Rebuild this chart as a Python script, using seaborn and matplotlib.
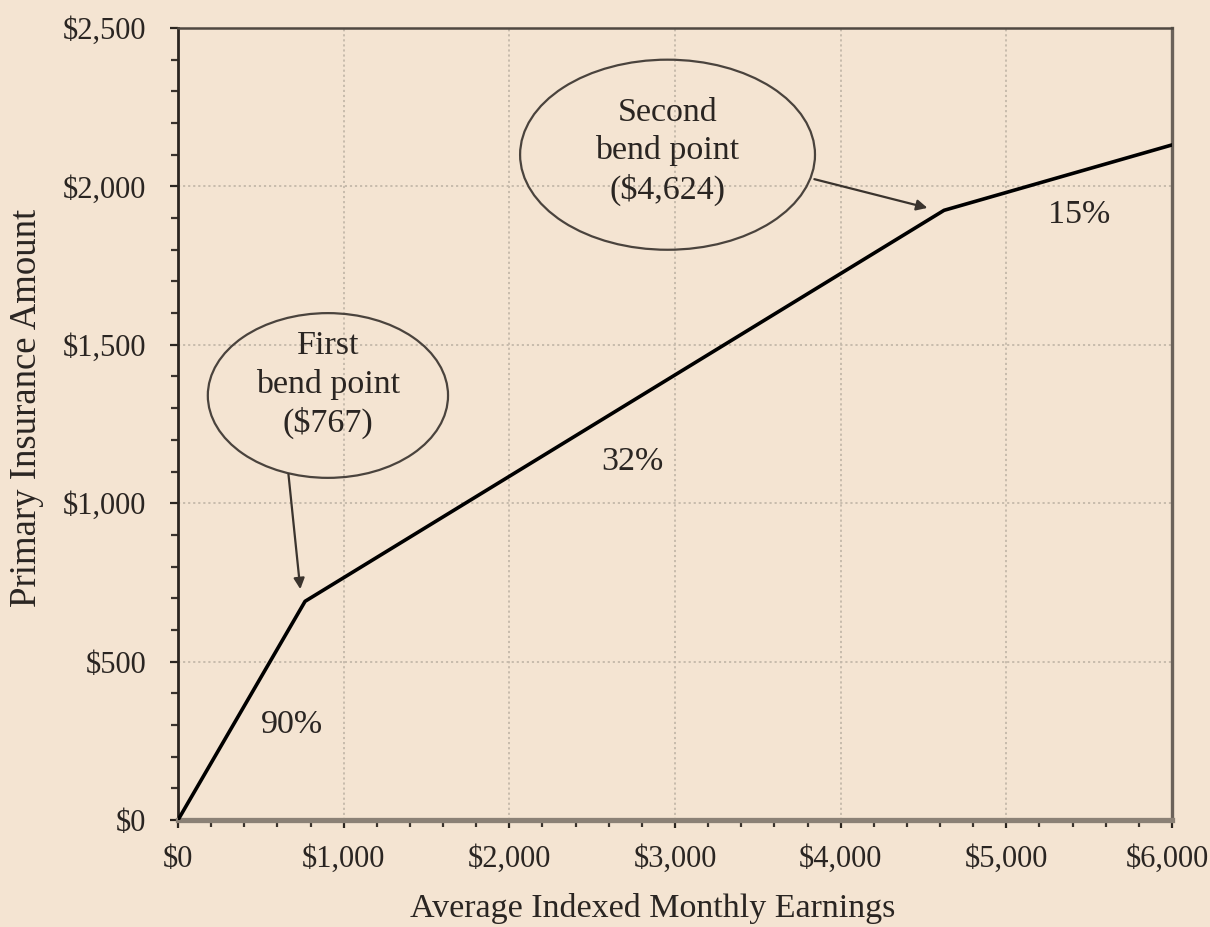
import matplotlib
matplotlib.use("Agg")
import matplotlib.pyplot as plt
import matplotlib.transforms as mtransforms
from matplotlib.patches import Ellipse
from matplotlib.ticker import MultipleLocator, FuncFormatter
import seaborn as sns
import pandas as pd

# Data: PIA formula bend points
aime = [0, 767, 4624, 6000]
pia = [0, 690.3, 1924.5, 2130.9]
rate_labels = ["90%", "32%", "15%"]
rate_x = [690, 2740, 5440]
rate_y = [300, 1130, 1910]
bend_texts = ["First\nbend point\n($767)", "Second\nbend point\n($4,624)"]
x_label = "Average Indexed Monthly Earnings"
y_label = "Primary Insurance Amount"

BG = "#f4e4d2"
sns.set_theme(style="ticks")
plt.rcParams['font.family'] = ['Liberation Serif', 'DejaVu Serif']

fig = plt.figure(figsize=(12.10, 9.27), dpi=100, facecolor=BG)
ax = fig.add_axes([178/1210, 1-820/927, (1172-178)/1210, (820-28)/927])
ax.set_facecolor(BG)

df = pd.DataFrame({"AIME": aime, "PIA": pia})
sns.lineplot(data=df, x="AIME", y="PIA", ax=ax, color="black", linewidth=2.6,
             solid_joinstyle="round", zorder=4)

ax.set_xlim(0, 6000)
ax.set_ylim(0, 2500)
ax.xaxis.set_major_locator(MultipleLocator(1000))
ax.xaxis.set_minor_locator(MultipleLocator(200))
ax.yaxis.set_major_locator(MultipleLocator(500))
ax.yaxis.set_minor_locator(MultipleLocator(100))
fmt = FuncFormatter(lambda v, p: f"${int(v):,}")
ax.xaxis.set_major_formatter(fmt)
ax.yaxis.set_major_formatter(fmt)

ax.grid(True, which="major", linestyle=(0, (1.2, 1.6)), color="#c4b8aa", linewidth=1.3)
ax.tick_params(axis="both", which="major", length=6, width=1.6, color="#2b2520",
               labelsize=22, labelcolor="#2a2522", direction="out")
ax.tick_params(axis="both", which="minor", length=5, width=1.6, color="#3a332d", direction="out")
ax.tick_params(axis="x", which="major", pad=12)
ax.tick_params(axis="y", which="major", pad=17)

ax.spines["left"].set_color("#2b2520"); ax.spines["left"].set_linewidth(2.0)
ax.spines["bottom"].set_color("#8b8176"); ax.spines["bottom"].set_linewidth(3.8)
ax.spines["top"].set_color("#4f4841"); ax.spines["top"].set_linewidth(1.8)
ax.spines["right"].set_color("#6b625a"); ax.spines["right"].set_linewidth(2.4)

ax.set_xlabel(x_label, fontsize=24.5, color="#2a2522")
ax.set_ylabel(y_label, fontsize=26.5, color="#2a2522")
ax.xaxis.set_label_coords((653-178)/994, -(893-820)/792)
ax.yaxis.set_label_coords(-(178-44)/994, (820-408)/792)

# rate labels
for t, x, y in zip(rate_labels, rate_x, rate_y):
    ax.text(x, y, t, fontsize=24.5, color="#2a2522", ha="center", va="center")

# ellipses
e1 = Ellipse((905, 1340), 1450, 520, facecolor="none", edgecolor="#4a433d", linewidth=1.6, zorder=3)
e2 = Ellipse((2955, 2100), 1780, 600, facecolor="none", edgecolor="#4a433d", linewidth=1.6, zorder=3)
ax.add_patch(e1); ax.add_patch(e2)
ax.text(905, 1373, bend_texts[0], fontsize=24.5, ha="center", va="center",
        color="#2a2522", linespacing=1.3)
ax.text(2955, 2110, bend_texts[1], fontsize=24.5, ha="center", va="center",
        color="#2a2522", linespacing=1.3)

arrow = dict(arrowstyle="-|>", color="#3a332d", lw=1.6, mutation_scale=16)
ax.annotate("", xy=(740, 720), xytext=(665, 1100), arrowprops=arrow)
ax.annotate("", xy=(4540, 1930), xytext=(3825, 2025), arrowprops=arrow)

# nudge the last x tick label so it stays inside the figure
fig.canvas.draw()
for tick in ax.xaxis.get_major_ticks():
    if abs(tick.get_loc() - 6000) < 1:
        lab = tick.label1
        lab.set_transform(lab.get_transform() +
                          mtransforms.ScaledTranslation(-5/100, 0, fig.dpi_scale_trans))

fig.savefig("out.png", dpi=100, facecolor=BG)
